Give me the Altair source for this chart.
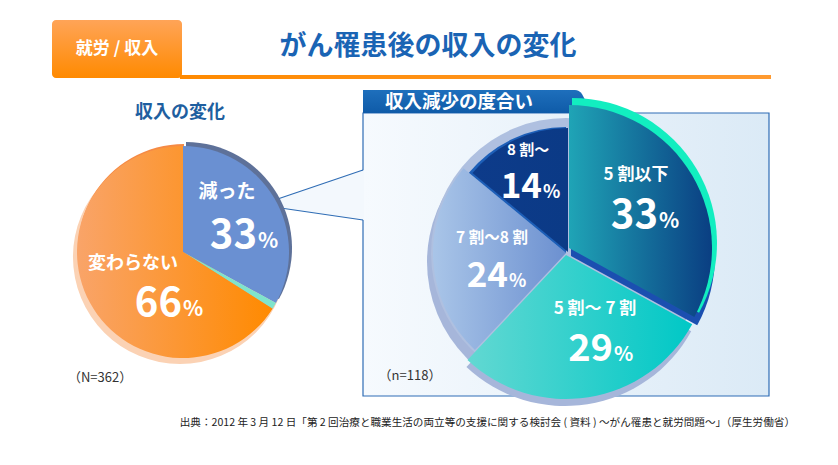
import math
import altair as alt
import pandas as pd

# ---- data ----
left_cats = ["減った", "その他", "変わらない"]
left_vals = [33, 1, 66]
right_cats = ["5割以下", "5割～7割", "7割～8割", "8割～"]
right_vals = [33, 29, 24, 14]
left_n = "（N=362）"
right_n = "（n=118）"
title_text = "がん罹患後の収入の変化"
tab_text = "就労 / 収入"
left_sub = "収入の変化"
right_sub = "収入減少の度合い"
source_text = "出典：2012 年 3 月 12 日「第 2 回治療と職業生活の両立等の支援に関する検討会 ( 資料 ) ～がん罹患と就労問題～」（厚生労働省）"
right_labels = ["5 割以下", "5 割～ 7 割", "7 割～8 割", "8 割～"]

W, H = 822, 449
FONT = "Noto Sans CJK JP"


def X(p):
    return p - 8


def Y(p):
    return p - 8


one = pd.DataFrame({"k": [0]})


def grad(c0, c1, vertical=False):
    return alt.Gradient(
        gradient="linear",
        stops=[alt.GradientStop(color=c0, offset=0), alt.GradientStop(color=c1, offset=1)],
        x1=0, y1=0, x2=0 if vertical else 1, y2=1 if vertical else 0,
    )


def box(x1, y1, x2, y2, **kw):
    return alt.Chart(one).mark_rect(**kw).encode(
        x=alt.value(X(x1)), x2=alt.value(X(x2)), y=alt.value(Y(y1)), y2=alt.value(Y(y2)))


def rule(x1, y1, x2, y2, **kw):
    return alt.Chart(one).mark_rule(**kw).encode(
        x=alt.value(X(x1)), x2=alt.value(X(x2)), y=alt.value(Y(y1)), y2=alt.value(Y(y2)))


def label(text, x, y, size, color="white", align="center", weight="bold", baseline="middle"):
    return alt.Chart(one).mark_text(
        text=text, font=FONT, fontSize=size, fontWeight=weight, color=color,
        align=align, baseline=baseline).encode(x=alt.value(X(x)), y=alt.value(Y(y)))


def shape(path, x, y, fill, stroke=None, sw=0):
    kw = dict(shape=path, size=4, filled=True, fill=fill, opacity=1, strokeWidth=sw)
    if stroke:
        kw["stroke"] = stroke
    return alt.Chart(one).mark_point(**kw).encode(x=alt.value(X(x)), y=alt.value(Y(y)))


def pie_base(cats, vals):
    df = pd.DataFrame({"cat": cats, "v": vals, "o": list(range(len(cats)))})
    return (alt.Chart(df)
            .transform_window(cum="sum(v)", sort=[alt.SortField("o")])
            .transform_joinaggregate(total="sum(v)")
            .transform_calculate(t0="(datum.cum - datum.v) / datum.total",
                                 t1="datum.cum / datum.total"))


THETA = alt.Theta("t0:Q", scale=alt.Scale(domain=[0, 1], range=[0, 2 * math.pi]), stack=None)


def slice_(base, cat, cx, cy, r, fill, **kw):
    return base.transform_filter(alt.datum.cat == cat).mark_arc(
        outerRadius=r, fill=fill, **kw).encode(
        theta=THETA, theta2="t1:Q", x=alt.value(X(cx)), y=alt.value(Y(cy)))


def full(cx, cy, r, fill):
    return alt.Chart(one).mark_arc(outerRadius=r, fill=fill, theta=0, theta2=2 * math.pi).encode(
        x=alt.value(X(cx)), y=alt.value(Y(cy)))


def pct(base, cat, xr, yb, size):
    num = base.transform_filter(alt.datum.cat == cat).mark_text(
        font=FONT, fontSize=size, fontWeight="bold", color="white", align="right",
        baseline="alphabetic").encode(text=alt.Text("v:Q"), x=alt.value(X(xr)), y=alt.value(Y(yb)))
    sign = label("%", xr + 1, yb, round(size * 0.52), align="left", baseline="alphabetic")
    return num + sign


layers = []

# header
layers.append(box(52, 20, 182, 78, cornerRadius=4, fill=grad("#FFA457", "#FF8A00", vertical=True)))
layers.append(box(180, 75, 771, 79, fill=grad("#FF8A00", "#FF9A30")))
layers.append(label(tab_text, 117, 49, 17))
layers.append(label(title_text, 428, 47, 27, color="#1A64B4"))

# right box
layers.append(box(363, 113, 769, 396, fill=grad("#F6FAFE", "#DBEAF6"), stroke="#2F6DB5", strokeWidth=1.2))
layers.append(shape("M0,0 L212,0 Q216,0 219,4 L229,23 L0,23 Z", 363, 90, grad("#1E6FBC", "#0F5BA8", vertical=True)))
layers.append(label(right_sub, 459, 102, 18.5))

# connector
layers.append(shape("M0,0 L104,-35 L104,15 Z", 260, 205, "#F3F8FD"))
layers.append(rule(260, 205, 363, 170, color="#2F6DB5", strokeWidth=1.2))
layers.append(rule(260, 205, 363, 220, color="#2F6DB5", strokeWidth=1.2))

# left pie
lb = pie_base(left_cats, left_vals)
layers.append(full(180, 257, 107, "#FBD2B4"))
layers.append(slice_(lb, "減った", 186, 248, 106, "#5E7199"))
layers.append(slice_(lb, "変わらない", 184, 250, 106, "#F58A45"))
layers.append(slice_(lb, "減った", 183, 252, 106, "#6A90D2"))
layers.append(slice_(lb, "その他", 183, 252, 106, "#7FE4CC"))
layers.append(slice_(lb, "変わらない", 183, 252, 106, grad("#F9A469", "#FF8A00")))
layers.append(label(left_cats[0], 227, 192, 19))
layers.append(pct(lb, "減った", 257, 248, 40))
layers.append(label(left_cats[2], 133, 264, 18))
layers.append(pct(lb, "変わらない", 182, 316, 40))
layers.append(label(left_sub, 180, 113, 18, color="#1F5FA0"))
layers.append(label(left_n, 100, 378, 13, color="#333333", weight="normal"))

# right pie
rb = pie_base(right_cats, right_vals)
layers.append(full(563, 262, 136, "#A6B6DA"))
layers.append(slice_(rb, "5割～7割", 565, 262, 144, "#A6B6DA"))
layers.append(full(566, 253, 135, "#AFC0E0"))
layers.append(slice_(rb, "7割～8割", 566, 253, 133, grad("#A9C5E8", "#6C90D0")))
layers.append(slice_(rb, "8割～", 566, 253, 126, "#1D5FB8"))
layers.append(slice_(rb, "8割～", 568, 252, 124, grad("#0D3B8A", "#0B3A86")))
layers.append(slice_(rb, "5割～7割", 566, 255, 144, grad("#62D8D2", "#00C8C6")))
layers.append(slice_(rb, "5割以下", 571, 256, 144, "#1B4FB0"))
layers.append(slice_(rb, "5割以下", 572, 243, 145, "#12EEC0"))
layers.append(slice_(rb, "5割以下", 569, 248, 143, grad("#1FA4B6", "#0A3E82")))
layers.append(label(right_labels[3], 528, 150, 15))
layers.append(pct(rb, "8割～", 542, 198, 35))
layers.append(label(right_labels[0], 636, 175, 17))
layers.append(pct(rb, "5割以下", 658, 228, 40))
layers.append(label(right_labels[2], 492, 238, 15.5))
layers.append(pct(rb, "7割～8割", 508, 287, 35))
layers.append(label(right_labels[1], 595, 309, 17))
layers.append(pct(rb, "5割～7割", 613, 361, 38))
layers.append(label(right_n, 410, 376, 13, color="#333333", weight="normal"))

# source
layers.append(label(source_text, 795, 423, 10.6, color="#222222", weight="normal", align="right"))

chart = alt.layer(*layers).properties(
    width=W, height=H, padding=0, autosize=alt.AutoSizeParams(type="none"),
    background="white",
).configure_view(strokeWidth=0)

chart.save("out.html", embed_options={"renderer": "svg", "actions": False})
